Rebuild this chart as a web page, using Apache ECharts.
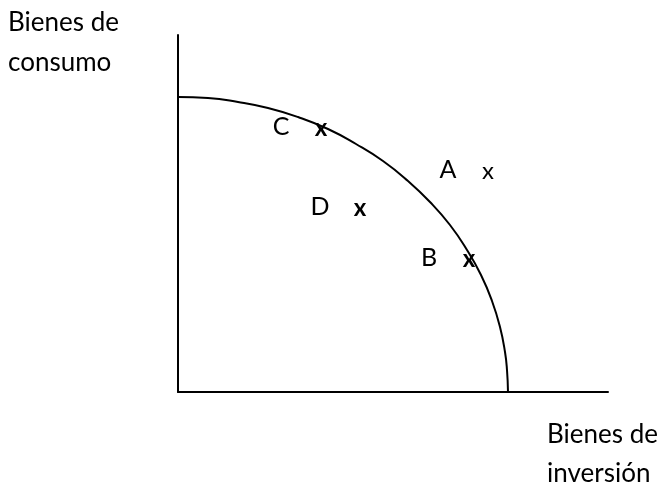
<!DOCTYPE html>
<html><head><meta charset="utf-8">
<script src="https://cdn.jsdelivr.net/npm/echarts@6/dist/echarts.min.js"></script>
<style>html,body{margin:0;padding:0;background:#fff}#c{width:664px;height:487px}</style>
</head><body><div id="c"></div>
<script>
// Frontier curve (units: pixels from origin)
const frontierX = [0, 30, 60, 90, 120, 150, 178, 205, 230, 252, 272, 289, 303, 314, 322, 327, 329, 330];
const frontierY = [295, 294, 290, 284, 275, 263, 248, 231, 211, 190, 167, 142, 117, 91, 65, 40, 22, 0];
const pointNames = ['C', 'D', 'A', 'B'];
const pointX = [143, 182, 310, 291];
const pointY = [264, 184, 221, 133];
const pointBold = [true, true, false, true];
const yAxisTitle = ['Bienes de', 'consumo'];
const xAxisTitle = ['Bienes de', 'inversión'];

const FONT = 'Lato';
const chart = echarts.init(document.getElementById('c'), null, {renderer: 'canvas'});
const curve = frontierX.map((x, i) => [x, frontierY[i]]);
const pts = pointX.map((x, i) => ({value: [x, pointY[i]], name: pointNames[i], bold: pointBold[i]}));

chart.setOption({
  animation: false,
  backgroundColor: '#fff',
  grid: {left: 178, right: 56, top: 35, bottom: 95},
  xAxis: {type: 'value', min: 0, max: 430, splitLine: {show: false},
    axisLine: {show: true, onZero: false, lineStyle: {color: '#000', width: 2}},
    axisTick: {show: false}, axisLabel: {show: false}},
  yAxis: {type: 'value', min: 0, max: 357, splitLine: {show: false},
    axisLine: {show: true, onZero: false, lineStyle: {color: '#000', width: 2}},
    axisTick: {show: false}, axisLabel: {show: false}},
  series: [
    {type: 'line', data: curve, smooth: 0.5, symbol: 'none',
     lineStyle: {color: '#000', width: 2}},
    {type: 'scatter', symbolSize: 0, itemStyle: {opacity: 1},
     data: pts.map(p => ({value: p.value, label: {fontWeight: p.bold ? 'bold' : 'normal'}})),
     label: {show: true, position: 'inside', formatter: 'x', color: '#000',
       fontFamily: FONT, fontSize: 24}},
    {type: 'scatter', symbolSize: 0, itemStyle: {opacity: 1},
     data: pts.map(p => ({value: p.value, name: p.name})),
     label: {show: true, position: 'inside', offset: [-40, -1], formatter: '{b}', color: '#000',
       fontFamily: FONT, fontSize: 25}}
  ],
  graphic: [
    {type: 'text', left: 8, top: 10, style: {text: yAxisTitle[0], font: '26px ' + FONT, fill: '#000'}},
    {type: 'text', left: 8, top: 50, style: {text: yAxisTitle[1], font: '26px ' + FONT, fill: '#000'}},
    {type: 'text', left: 547, top: 422, style: {text: xAxisTitle[0], font: '26px ' + FONT, fill: '#000'}},
    {type: 'text', left: 547, top: 461, style: {text: xAxisTitle[1], font: '26px ' + FONT, fill: '#000'}}
  ]
});
</script></body></html>
